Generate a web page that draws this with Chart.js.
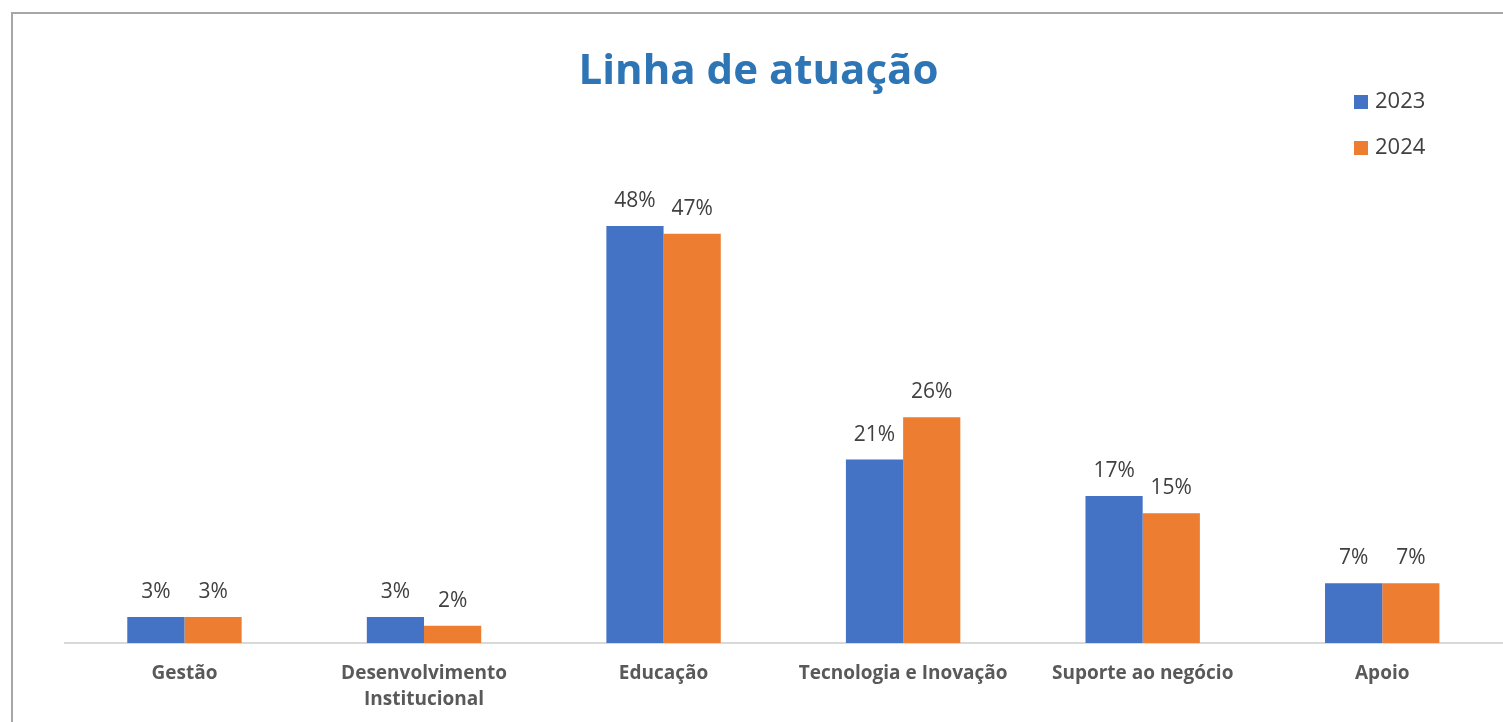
<!DOCTYPE html>
<html>
<head>
<meta charset="utf-8">
<script src="https://cdn.jsdelivr.net/npm/chart.js@4.4.1/dist/chart.umd.min.js"></script>
<style>
  html, body { margin: 0; padding: 0; background: #fff; }
  .frame {
    position: absolute; left: 11px; top: 12px; width: 1600px; height: 800px;
    border-left: 2px solid #a6a6a6; border-top: 2px solid #a6a6a6;
  }
  .wrap { position: absolute; left: 0; top: 0; width: 1503px; height: 722px; }
</style>
</head>
<body>
<div class="frame"></div>
<div class="wrap"><canvas id="myChart"></canvas></div>
<script>
const categories = [
  "Gestão",
  ["Desenvolvimento", "Institucional"],
  "Educação",
  "Tecnologia e Inovação",
  "Suporte ao negócio",
  "Apoio",
];
const seriesNames = ["2023", "2024"];
const values2023 = [3.0, 3.0, 48.2, 21.2, 17.0, 6.9];
const values2024 = [3.0, 2.0, 47.3, 26.1, 15.0, 6.9];
const seriesColors = ["#4472C4", "#ED7D31"];

const FONT = "'Open Sans', 'DejaVu Sans', sans-serif";

// value labels above bars
const barLabels = {
  id: "barLabels",
  afterDatasetsDraw(chart) {
    const ctx = chart.ctx;
    ctx.save();
    ctx.font = "21px " + FONT;
    ctx.fillStyle = "#404040";
    ctx.textAlign = "center";
    ctx.textBaseline = "alphabetic";
    chart.data.datasets.forEach((ds, i) => {
      chart.getDatasetMeta(i).data.forEach((bar, j) => {
        ctx.fillText(Math.round(ds.data[j]) + "%", bar.x, bar.y - 19);
      });
    });
    ctx.restore();
  },
};

// legend stacked in the top right corner, over the plot area
const sideLegend = {
  id: "sideLegend",
  afterDraw(chart) {
    const ctx = chart.ctx;
    ctx.save();
    ctx.font = "22px " + FONT;
    ctx.textBaseline = "alphabetic";
    ctx.textAlign = "left";
    chart.data.datasets.forEach((ds, i) => {
      const y = 95 + i * 46;
      ctx.fillStyle = ds.backgroundColor;
      ctx.fillRect(1354, y, 14, 14);
      ctx.fillStyle = "#404040";
      ctx.fillText(ds.label, 1375, y + 13);
    });
    ctx.restore();
  },
};

const data = {
  labels: categories,
  datasets: [
    { label: seriesNames[0], data: values2023, backgroundColor: seriesColors[0] },
    { label: seriesNames[1], data: values2024, backgroundColor: seriesColors[1] },
  ],
};

const options = {
  responsive: true,
  maintainAspectRatio: false,
  animation: false,
  datasets: {
    bar: { categoryPercentage: 0.4776, barPercentage: 1.0, borderWidth: 0 },
  },
  layout: { padding: { top: 0, left: 15, right: 1, bottom: 0 } },
  plugins: {
    legend: { display: false },
    tooltip: { enabled: false },
    title: {
      display: true,
      text: "Linha de atuação",
      color: "#2E75B6",
      font: { family: FONT, size: 42, weight: "bold", lineHeight: 1.2 },
      padding: { top: 47, bottom: 26.6 },
    },
  },
  scales: {
    x: {
      grid: { display: false },
      border: { display: true, color: "#d9d9d9", width: 2 },
      ticks: {
        color: "#595959",
        padding: 10,
        maxRotation: 0,
        autoSkip: false,
        font: { family: FONT, size: 19, weight: "bold", lineHeight: 1.35 },
      },
      afterFit(scale) { scale.height = 79; },
    },
    y: {
      min: 0,
      max: 60,
      grid: { display: false },
      border: { display: false },
      ticks: { display: false },
      afterFit(scale) { scale.width = 49.7; },
    },
  },
};

const ctx = document.getElementById("myChart").getContext("2d");
new Chart(ctx, { type: "bar", data, options, plugins: [barLabels, sideLegend] });
</script>
</body>
</html>
